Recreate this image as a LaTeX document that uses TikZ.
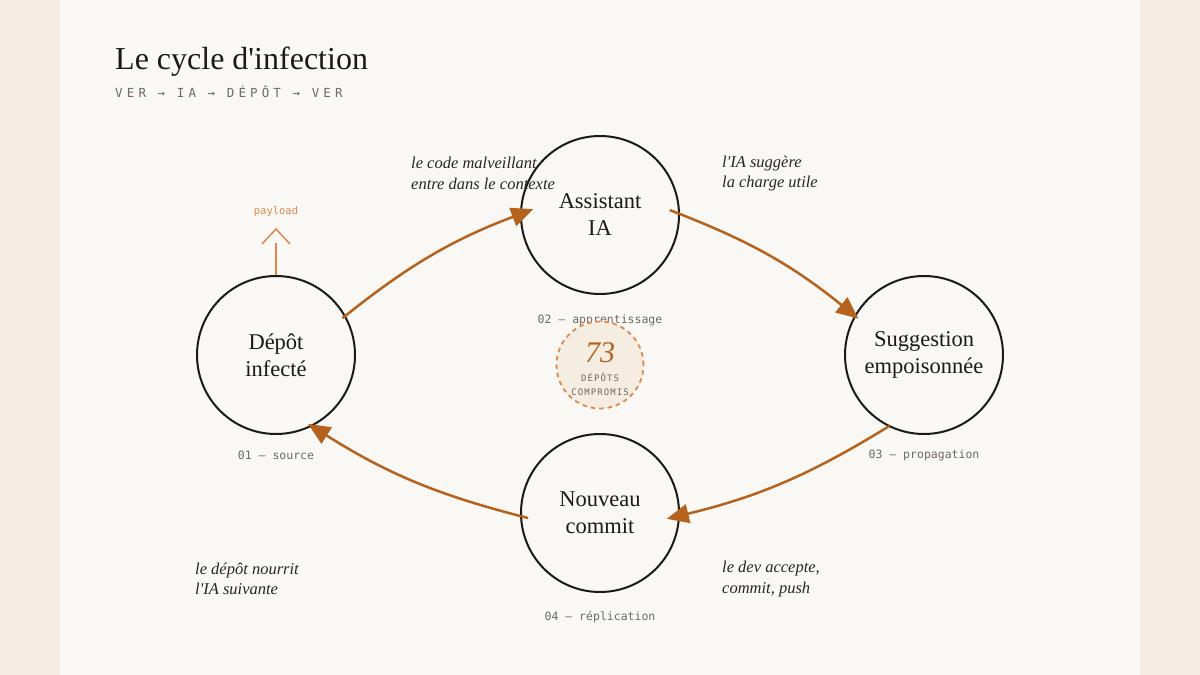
\documentclass[tikz,border=0pt]{standalone}
\usepackage{fontspec}
\setmainfont{Liberation Serif}
\newfontfamily\monof{DejaVu Sans Mono}
\newfontfamily\monosp{DejaVu Sans Mono}[LetterSpace=33]
\newfontfamily\monosm{DejaVu Sans Mono}[LetterSpace=12]
\usetikzlibrary{arrows.meta,calc}
\definecolor{outerbg}{HTML}{F5EDE4}
\definecolor{panelbg}{HTML}{FAF8F4}
\definecolor{inkc}{HTML}{1C1A17}
\definecolor{textc}{HTML}{2B2520}
\definecolor{greyc}{HTML}{716860}
\definecolor{arrowc}{HTML}{B5621E}
\definecolor{lightor}{HTML}{E0884A}
\definecolor{badgebg}{HTML}{F5ECE2}
\tikzset{
  stage/.style={circle, draw=inkc, line width=2pt, minimum size=158pt, inner sep=0pt,
    align=center, text=inkc, font=\fontsize{22.5}{27}\selectfont},
  flow/.style={draw=arrowc, line width=2.5pt, -{Triangle[length=22pt,width=19pt]}, bend left=9},
  note/.style={anchor=west, align=left, text=textc, font=\fontsize{16.5}{20.5}\selectfont\itshape, inner sep=0pt},
  tag/.style={text=greyc, font=\fontsize{11.5}{13}\selectfont\monof, inner sep=0pt},
}
\begin{document}
\begin{tikzpicture}[x=1pt,y=-1pt]
\useasboundingbox (0,0) rectangle (1200,675);
\fill[outerbg] (0,0) rectangle (1200,675);
\fill[panelbg] (60,0) rectangle (1140,675);

% title
\node[anchor=base west, inner sep=0pt, text=inkc, font=\fontsize{32}{36}\selectfont] (title) at (115,69) {Le cycle d\textquotesingle infection};
\node[anchor=base west, inner sep=0pt, text=greyc, font=\fontsize{12.5}{14}\selectfont\monosp] (subtitle) at (115,97) {VER → IA → DÉPÔT → VER};

% stages
\node[stage] (dep) at (276,355) {Dépôt\\infecté};
\node[stage] (ia) at (600,215) {Assistant\\IA};
\node[stage] (sug) at (924,355) {Suggestion\\empoisonnée};
\node[stage] (com) at (600,513) {Nouveau\\commit};

% tags
\node[tag] (t1) at (276,455) {01 — source};
\node[tag] (t2) at (600,320) {02 — apprentissage};
\node[tag] (t3) at (924,455) {03 — propagation};
\node[tag] (t4) at (600,617) {04 — réplication};

% notes
\node[note] (n1) at (411,173.5) {le code malveillant\\entre dans le contexte};
\node[note] (n2) at (722,173.5) {l\textquotesingle IA suggère\\la charge utile};
\node[note] (n3) at (195,579) {le dépôt nourrit\\l\textquotesingle IA suivante};
\node[note] (n4) at (722,579) {le dev accepte,\\commit, push};

% arrow endpoints
\coordinate (a1s) at ($(dep.center)+(29:76pt)$);
\coordinate (a1e) at ($(ia.center)+(175:67pt)$);
\coordinate (a2s) at ($(ia.center)+(4:70pt)$);
\coordinate (a2e) at ($(sug.center)+(151:75pt)$);
\coordinate (a3s) at ($(sug.center)+(-116:79pt)$);
\coordinate (a3e) at ($(com.center)+(-5:67pt)$);
\coordinate (a4s) at ($(com.center)+(184:72pt)$);
\coordinate (a4e) at ($(dep.center)+(-65:76pt)$);

\draw[flow] (a1s) to (a1e);
\draw[flow] (a2s) to (a2e);
\draw[flow] (a3s) to (a3e);
\draw[flow] (a4s) to (a4e);

% payload
\coordinate (pl) at (276,243);
\coordinate (pk) at (276,229);
\draw[lightor, line width=1.5pt] (dep.north) -- (pl);
\draw[lightor, line width=1.5pt] ($(pk)+(-14,15)$) -- (pk) -- ($(pk)+(14,15)$);
\node[text=lightor, font=\fontsize{10.5}{12}\selectfont\monof, inner sep=0pt] (payload) at (276,212) {payload};

% badge
\node[circle, minimum size=87pt, inner sep=0pt, fill=badgebg, draw=lightor, line width=1.8pt,
  dash pattern=on 4.5pt off 4pt] (badge) at (600,365) {};
\node[text=arrowc, font=\fontsize{30}{32}\selectfont\itshape, inner sep=0pt] (num) at (600,353) {73};
\node[text=greyc, align=center, font=\fontsize{9}{14}\selectfont\monosm, inner sep=0pt] (blabel) at (600,384) {DÉPÔTS\\COMPROMIS};
\end{tikzpicture}
\end{document}
